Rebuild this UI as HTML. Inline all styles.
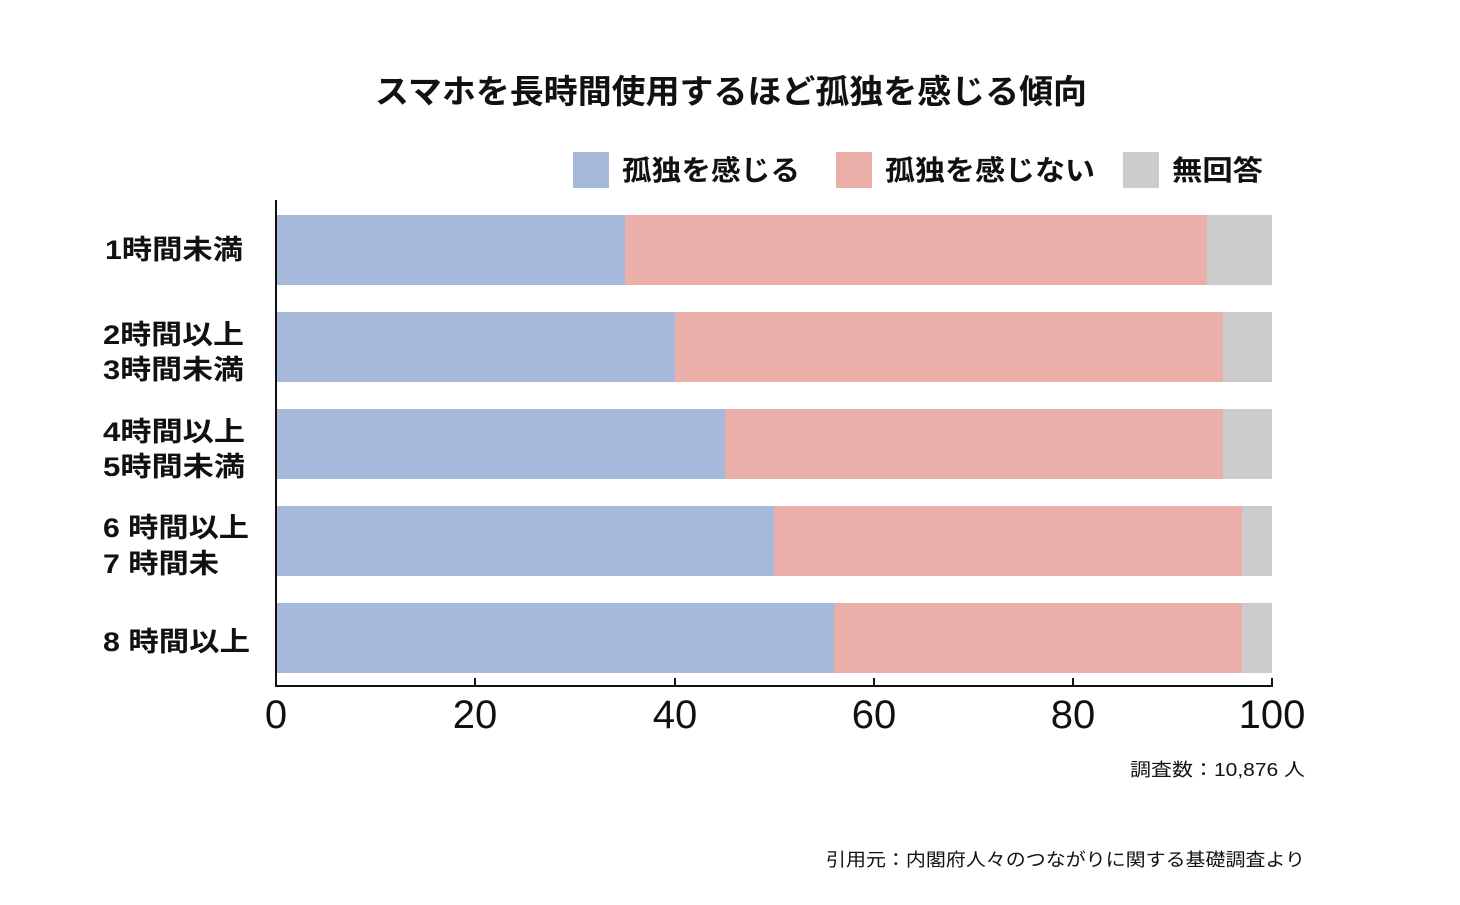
<!DOCTYPE html>
<html><head><meta charset="utf-8"><style>
body{margin:0;background:#fff;}
svg text{font-family:"Liberation Sans","Noto Sans CJK JP",sans-serif;fill:#111;}
</style></head><body>
<svg width="1460" height="900" xmlns="http://www.w3.org/2000/svg">
<text x="375" y="103" font-size="33" font-weight="bold" textLength="712" lengthAdjust="spacingAndGlyphs">スマホを長時間使用するほど孤独を感じる傾向</text>
<rect x="573" y="152" width="36" height="36" fill="#a6b9da"/>
<text x="622" y="180" font-size="28" font-weight="bold" textLength="178" lengthAdjust="spacingAndGlyphs">孤独を感じる</text>
<rect x="836" y="152" width="36" height="36" fill="#e9afa8"/>
<text x="885" y="180" font-size="28" font-weight="bold" textLength="210" lengthAdjust="spacingAndGlyphs">孤独を感じない</text>
<rect x="1123" y="152" width="36" height="36" fill="#cccccc"/>
<text x="1172" y="180" font-size="28" font-weight="bold" textLength="91" lengthAdjust="spacingAndGlyphs">無回答</text>
<g>
<rect x="276" y="215" width="349" height="70" fill="#a6b9da"/><rect x="625" y="215" width="582" height="70" fill="#e9afa8"/><rect x="1207" y="215" width="65" height="70" fill="#cccccc"/>
<rect x="276" y="312" width="399" height="70" fill="#a6b9da"/><rect x="675" y="312" width="548" height="70" fill="#e9afa8"/><rect x="1223" y="312" width="49" height="70" fill="#cccccc"/>
<rect x="276" y="409" width="449" height="70" fill="#a6b9da"/><rect x="725" y="409" width="498" height="70" fill="#e9afa8"/><rect x="1223" y="409" width="49" height="70" fill="#cccccc"/>
<rect x="276" y="506" width="498" height="70" fill="#a6b9da"/><rect x="774" y="506" width="468" height="70" fill="#e9afa8"/><rect x="1242" y="506" width="30" height="70" fill="#cccccc"/>
<rect x="276" y="603" width="558" height="70" fill="#a6b9da"/><rect x="834" y="603" width="408" height="70" fill="#e9afa8"/><rect x="1242" y="603" width="30" height="70" fill="#cccccc"/>
</g>
<line x1="276" y1="200" x2="276" y2="687" stroke="#111" stroke-width="2"/>
<line x1="275" y1="686" x2="1273" y2="686" stroke="#111" stroke-width="2"/>
<g stroke="#111" stroke-width="2">
<line x1="475" y1="678" x2="475" y2="686"/><line x1="675" y1="678" x2="675" y2="686"/><line x1="874" y1="678" x2="874" y2="686"/><line x1="1073" y1="678" x2="1073" y2="686"/><line x1="1272" y1="678" x2="1272" y2="686"/>
</g>
<g font-size="40" text-anchor="middle">
<text x="276" y="728">0</text><text x="475" y="728">20</text><text x="675" y="728">40</text><text x="874" y="728">60</text><text x="1073" y="728">80</text><text x="1272" y="728">100</text>
</g>
<g font-size="27" font-weight="bold" lengthAdjust="spacingAndGlyphs">
<text x="105" y="259" textLength="138" lengthAdjust="spacingAndGlyphs">1時間未満</text>
<text x="103" y="344" textLength="141" lengthAdjust="spacingAndGlyphs">2時間以上</text><text x="103" y="379" textLength="141" lengthAdjust="spacingAndGlyphs">3時間未満</text>
<text x="103" y="441" textLength="142" lengthAdjust="spacingAndGlyphs">4時間以上</text><text x="103" y="476" textLength="142" lengthAdjust="spacingAndGlyphs">5時間未満</text>
<text x="103" y="537" textLength="146" lengthAdjust="spacingAndGlyphs">6 時間以上</text><text x="103" y="573" textLength="116" lengthAdjust="spacingAndGlyphs">7 時間未</text>
<text x="103" y="651" textLength="147" lengthAdjust="spacingAndGlyphs">8 時間以上</text>
</g>
<text x="1130" y="776" font-size="18" textLength="175" lengthAdjust="spacingAndGlyphs">調査数：10,876 人</text>
<text x="826" y="866" font-size="18" textLength="479" lengthAdjust="spacingAndGlyphs">引用元：内閣府人々のつながりに関する基礎調査より</text>
</svg>
</body></html>
